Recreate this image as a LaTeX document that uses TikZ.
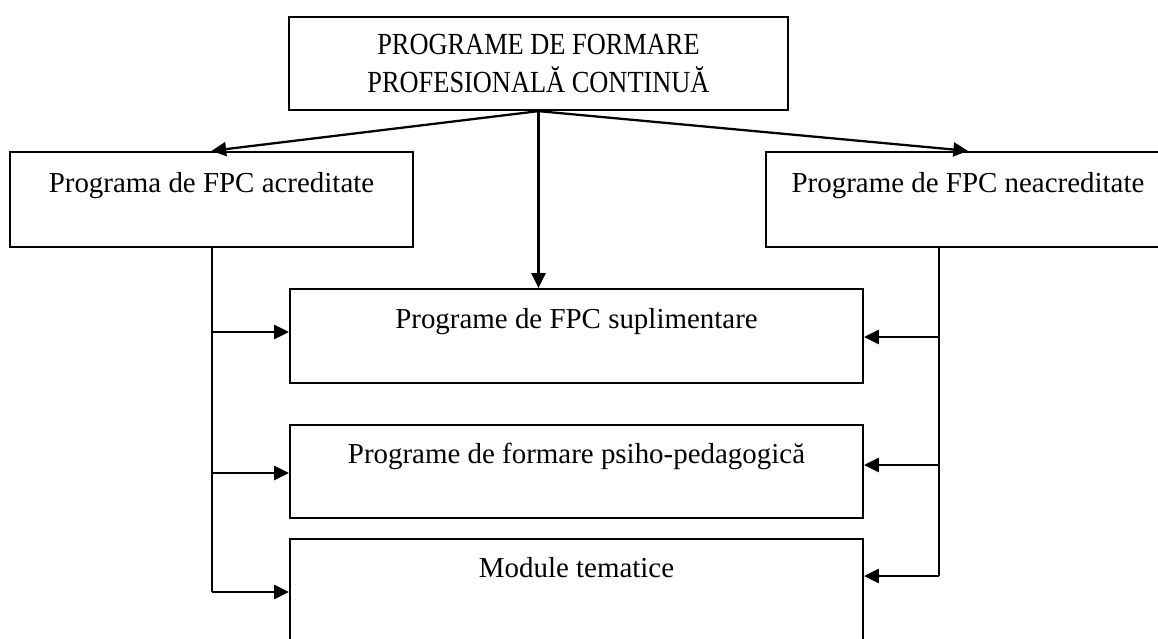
\documentclass[tikz,border=0pt]{standalone}
\usepackage{fontspec}
\setmainfont{Liberation Serif}
\newfontfamily\topfont[FakeStretch=0.86]{Liberation Serif}
\usetikzlibrary{arrows.meta,calc}
\tikzset{
  box/.style={draw, line width=1.7pt, inner sep=0pt, minimum width=573*0.75pt, minimum height=94*0.75pt},
  lbl/.style={inner sep=0pt, anchor=base, font=\fontsize{21.7}{26}\selectfont},
  conn/.style={line width=1.7pt},
  arr/.style={line width=1.7pt, -{Triangle[length=11pt,width=10.5pt]}}
}
\begin{document}
\begin{tikzpicture}[x=0.75pt,y=-0.75pt]
\useasboundingbox (0,0) rectangle (1158,639);
\clip (0,0) rectangle (1158,639);
% boxes
\node[box, minimum width=499*0.75pt, minimum height=93*0.75pt, align=center,
      font=\topfont\fontsize{23}{28}\selectfont] (top) at (538.5,63.5)
      {PROGRAME DE FORMARE\\PROFESIONALĂ CONTINUĂ};
\node[box, minimum width=403*0.75pt, minimum height=95*0.75pt] (left) at (211.5,199.5) {};
\node[box, minimum width=404*0.75pt, minimum height=95*0.75pt] (right) at (968,199.5) {};
\node[box] (supl) at (576.5,336) {};
\node[box, minimum height=93*0.75pt] (psiho) at (576.5,471.5) {};
\node[box, minimum height=130*0.75pt] (mod) at (576.5,604) {};
% texts
\node[lbl] (tleft) at (211.5,192) {Programa de FPC acreditate};
\node[lbl] (tright) at (968,192) {Programe de FPC neacreditate};
\node[lbl] (tsupl) at (576.5,328) {Programe de FPC suplimentare};
\node[lbl] (tpsiho) at (576.5,463) {Programe de formare psiho-pedagogică};
\node[lbl] (tmod) at (576.5,577) {Module tematice};
% connectors from top
\draw[arr] (top.south) -- (left.north);
\draw[arr] (top.south) -- (right.north);
\draw[arr] (top.south) -- (top.south |- supl.north);
% trunks
\coordinate (L1) at (212,332);
\coordinate (L2) at (212,473);
\coordinate (L3) at (212,592);
\coordinate (R1) at (939,337);
\coordinate (R2) at (939,465);
\coordinate (R3) at (939,576);
\draw[conn] (left.south -| L1) -- (L3);
\draw[conn] (right.south -| R1) -- (R3);
\draw[arr] (L1) -- (L1 -| supl.west);
\draw[arr] (L2) -- (L2 -| psiho.west);
\draw[arr] (L3) -- (L3 -| mod.west);
\draw[arr] (R1) -- (R1 -| supl.east);
\draw[arr] (R2) -- (R2 -| psiho.east);
\draw[arr] (R3) -- (R3 -| mod.east);
\end{tikzpicture}
\end{document}
